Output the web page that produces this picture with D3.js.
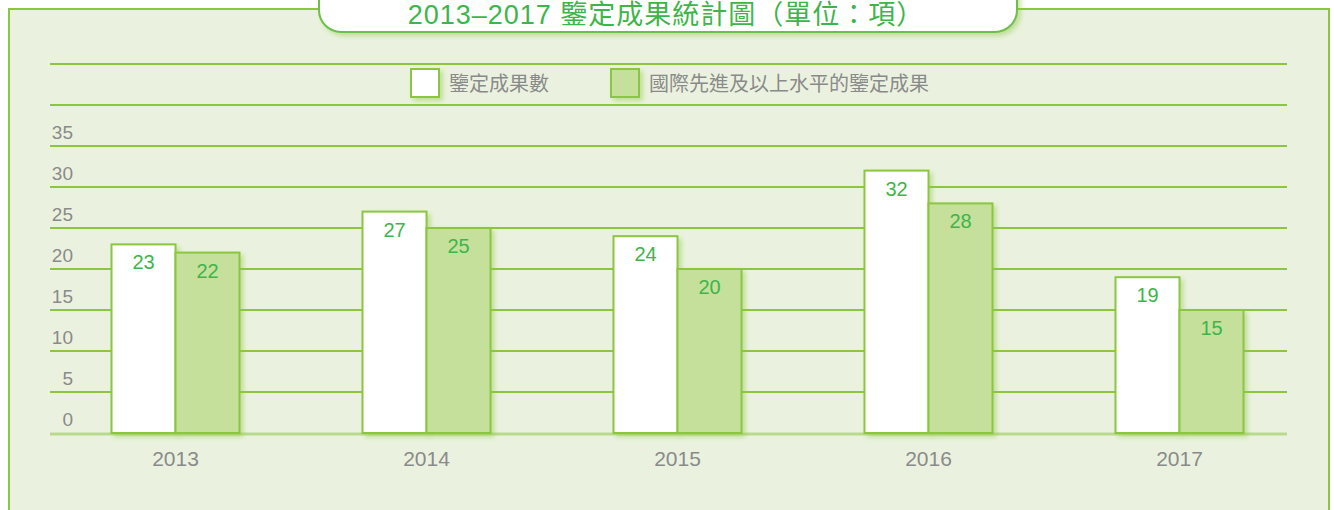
<!DOCTYPE html>
<html>
<head>
<meta charset="utf-8">
<script src="https://cdn.jsdelivr.net/npm/d3@7"></script>
<style>
  body { margin: 0; background: #fff; }
  svg { display: block; font-family: "Liberation Sans", Arial, "Noto Sans CJK TC", sans-serif; }
</style>
</head>
<body>
<div id="canvas"></div>
<script>
"use strict"
let svgWidth = 1334;
let svgHeight = 510;

// chart data
let years = ["2013", "2014", "2015", "2016", "2017"];
let seriesNames = ["鑒定成果數", "國際先進及以上水平的鑒定成果"];
let totalResults = [23, 27, 24, 32, 19];
let advancedResults = [22, 25, 20, 28, 15];
let yTicks = [0, 5, 10, 15, 20, 25, 30, 35];
let gridValues = [5, 10, 15, 20, 25, 30, 35, 40, 45];
let titleText = "2013–2017 鑒定成果統計圖（單位：項）";

let green = "#8cc63f";
let lightFill = "#c5e09b";
let textGreen = "#3db54a";
let gray = "#8a8a8a";

let svg = d3.select("#canvas")
    .append("svg")
    .attr("width", svgWidth)
    .attr("height", svgHeight);

// soft shadow used by bars, swatches and title box
let defs = svg.append("defs");
let shadow = defs.append("filter")
    .attr("id", "shadow")
    .attr("x", "-20%").attr("y", "-20%")
    .attr("width", "150%").attr("height", "150%");
shadow.append("feDropShadow")
    .attr("dx", 3).attr("dy", 3)
    .attr("stdDeviation", 2.5)
    .attr("flood-color", "#8cc63f")
    .attr("flood-opacity", 0.45);

// outer frame
svg.append("rect")
    .attr("x", 9)
    .attr("y", 9)
    .attr("width", 1320)
    .attr("height", 520)
    .attr("fill", "#eaf2df")
    .attr("stroke", green)
    .attr("stroke-width", 2);

// scales
let x0 = d3.scaleBand()
    .domain(years)
    .range([50, 1305]);

let x1 = d3.scaleBand()
    .domain([0, 1])
    .range([x0.bandwidth() / 2 - 64, x0.bandwidth() / 2 + 64]);

let yScale = d3.scaleLinear()
    .domain([0, 45])
    .range([433, 64]);

// gridlines
svg.selectAll("line.grid")
    .data(gridValues)
    .join("line")
    .attr("class", "grid")
    .attr("x1", 50)
    .attr("x2", 1287)
    .attr("y1", function(d) { return yScale(d); })
    .attr("y2", function(d) { return yScale(d); })
    .attr("stroke", green)
    .attr("stroke-width", 2);

// baseline
svg.append("line")
    .attr("x1", 50)
    .attr("x2", 1287)
    .attr("y1", yScale(0) + 1)
    .attr("y2", yScale(0) + 1)
    .attr("stroke", "#b9da8e")
    .attr("stroke-width", 3);

// y tick labels sit just above their lines
svg.selectAll("text.ytick")
    .data(yTicks)
    .join("text")
    .attr("class", "ytick")
    .attr("x", 73)
    .attr("y", function(d) { return yScale(d) - 7; })
    .attr("text-anchor", "end")
    .attr("font-size", 19)
    .attr("fill", gray)
    .text(function(d) { return d; });

// legend
let legendItems = [
    {name: seriesNames[0], fill: "#ffffff", x: 411},
    {name: seriesNames[1], fill: lightFill, x: 611}
];
for (let i = 0; i < legendItems.length; i++) {
    svg.append("rect")
        .attr("x", legendItems[i].x)
        .attr("y", 69)
        .attr("width", 28)
        .attr("height", 28)
        .attr("fill", legendItems[i].fill)
        .attr("stroke", green)
        .attr("stroke-width", 2)
        .attr("filter", "url(#shadow)");
    svg.append("text")
        .attr("x", legendItems[i].x + 38)
        .attr("y", 84)
        .attr("dominant-baseline", "central")
        .attr("font-size", 20)
        .attr("fill", gray)
        .text(legendItems[i].name);
}

// bars
let rows = years.map(function(yr, i) {
    return {year: yr, values: [totalResults[i], advancedResults[i]]};
});

let groups = svg.selectAll("g.year")
    .data(rows)
    .join("g")
    .attr("class", "year")
    .attr("transform", function(d) { return "translate(" + x0(d.year) + ",0)"; });

let barFills = ["#ffffff", lightFill];

groups.selectAll("rect")
    .data(function(d) { return d.values.map(function(v, k) { return {k: k, v: v}; }); })
    .join("rect")
    .attr("x", function(d) { return x1(d.k); })
    .attr("y", function(d) { return yScale(d.v); })
    .attr("width", x1.bandwidth())
    .attr("height", function(d) { return yScale(0) - yScale(d.v); })
    .attr("fill", function(d) { return barFills[d.k]; })
    .attr("stroke", green)
    .attr("stroke-width", 2)
    .attr("filter", "url(#shadow)");

groups.selectAll("text.value")
    .data(function(d) { return d.values.map(function(v, k) { return {k: k, v: v}; }); })
    .join("text")
    .attr("class", "value")
    .attr("x", function(d) { return x1(d.k) + x1.bandwidth() / 2; })
    .attr("y", function(d) { return yScale(d.v) + 25; })
    .attr("text-anchor", "middle")
    .attr("font-size", 20)
    .attr("fill", textGreen)
    .text(function(d) { return d.v; });

// x labels
svg.selectAll("text.xlabel")
    .data(years)
    .join("text")
    .attr("class", "xlabel")
    .attr("x", function(d) { return x0(d) + x0.bandwidth() / 2; })
    .attr("y", 466)
    .attr("text-anchor", "middle")
    .attr("font-size", 21)
    .attr("fill", gray)
    .text(function(d) { return d; });

// title box
svg.append("rect")
    .attr("x", 319)
    .attr("y", -30)
    .attr("width", 698)
    .attr("height", 62)
    .attr("rx", 22)
    .attr("fill", "#ffffff")
    .attr("stroke", "#6cc04a")
    .attr("stroke-width", 2)
    .attr("filter", "url(#shadow)");

svg.append("text")
    .attr("x", 666)
    .attr("y", 24)
    .attr("text-anchor", "middle")
    .attr("font-size", 27)
    .attr("letter-spacing", 1)
    .attr("fill", textGreen)
    .text(titleText);
</script>
</body>
</html>
